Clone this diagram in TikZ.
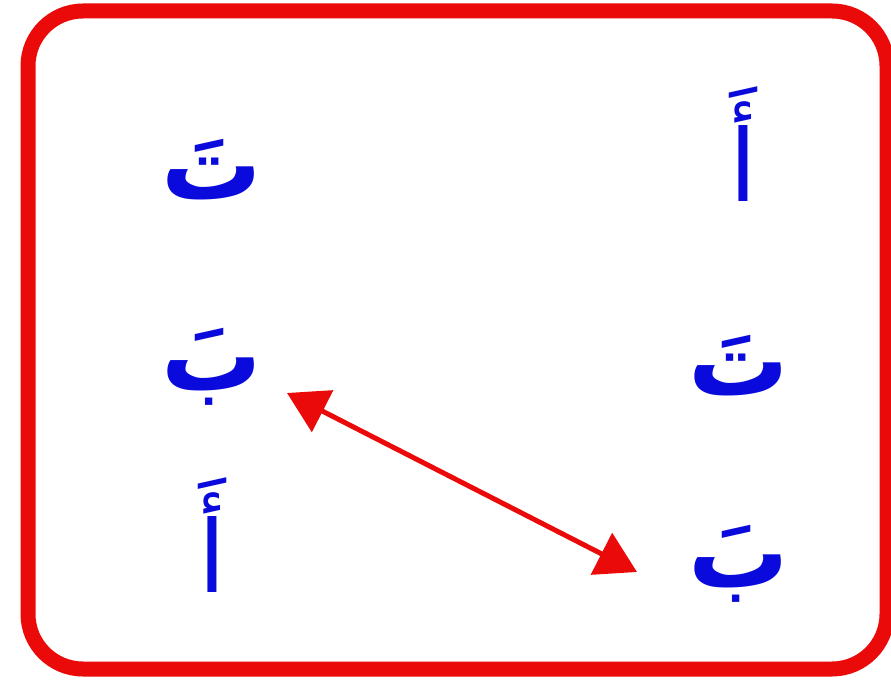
\documentclass[tikz,border=0pt]{standalone}
\usepackage{fontspec}
\usetikzlibrary{arrows.meta}
\TeXXeTstate=1
\newfontfamily\arabicfont[Script=Arabic]{DejaVu Sans}
\definecolor{frame}{RGB}{235,10,10}
\definecolor{letter}{RGB}{10,10,220}
\tikzset{
  letternode/.style={inner sep=0pt, text=letter, font=\arabicfont\bfseries\fontsize{100}{110}\selectfont},
  alefnode/.style={inner sep=0pt, text=letter, font=\arabicfont\fontsize{100}{110}\selectfont},
  frameline/.style={draw=frame, line width=15pt, rounded corners=55pt},
  link/.style={draw=frame, line width=5pt, {Triangle[length=40pt,width=46pt]}-{Triangle[length=40pt,width=46pt]}}
}
\begin{document}
\begin{tikzpicture}[x=1pt,y=-1pt]
\useasboundingbox (0,0) rectangle (891,684);
\fill[white] (0,0) rectangle (891,684);
\draw[frameline] (28,11) rectangle (887,669);
\node[letternode] (lt) at (212,170) {\beginR تَ\endR};
\node[letternode] (lb) at (212,367) {\beginR بَ\endR};
\node[alefnode] (la) at (212,535) {\beginR أَ\endR};
\node[alefnode] (ra) at (743,144) {\beginR أَ\endR};
\node[letternode] (rt) at (739,366) {\beginR تَ\endR};
\node[letternode] (rb) at (739,564) {\beginR بَ\endR};
\coordinate (a1) at (287,393);
\coordinate (a2) at (637,572);
\draw[link] (a1) -- (a2);
\end{tikzpicture}
\end{document}
